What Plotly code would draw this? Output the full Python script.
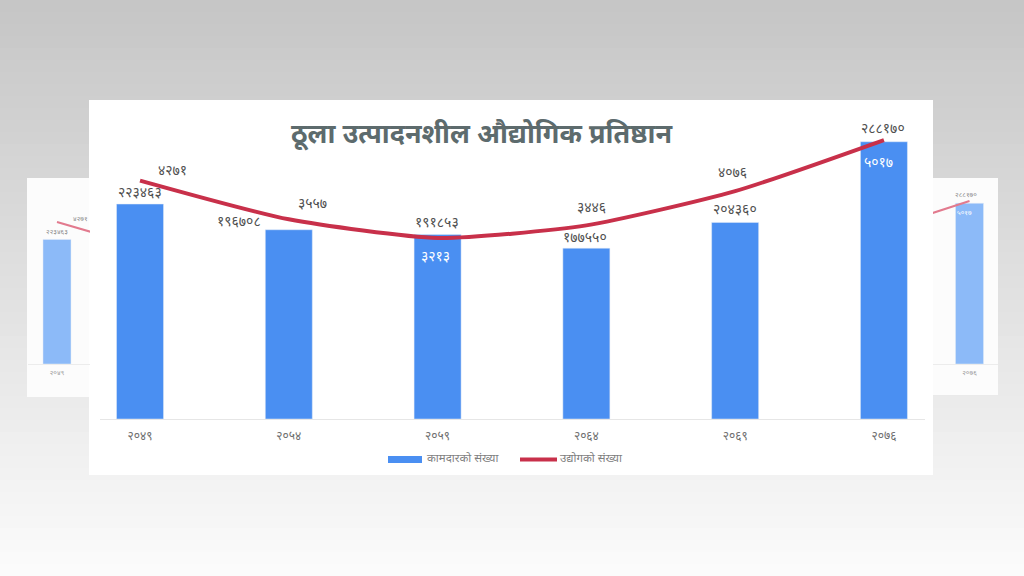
import plotly.graph_objects as go

# ---------------- data ----------------
years = ["२०४९", "२०५४", "२०५९", "२०६४", "२०६९", "२०७६"]
workers = [223463, 196708, 191853, 177550, 204360, 288170]
industries = [4271, 3557, 3213, 3446, 4076, 5017]
title_text = "ठूला उत्पादनशील औद्योगिक प्रतिष्ठान"
bar_name = "कामदारको संख्या"
line_name = "उद्योगको संख्या"

DEV = str.maketrans("0123456789", "०१२३४५६७८९")
def dev(n):
    return str(n).translate(DEV)

W, H = 1024, 576
def px(x):
    return x / W
def py(y):
    return 1 - y / H

FONT = "Noto Sans Devanagari, Lohit Devanagari, FreeSans, Noto Sans, sans-serif"
BAR_C = "#4a8ff2"
LINE_C = "#c8304a"
TXT = "#505050"

fig = go.Figure()

# main chart
fig.add_trace(go.Bar(x=years, y=workers, width=0.316, marker_color=BAR_C,
                     xaxis="x", yaxis="y", showlegend=False, hoverinfo="skip"))
fig.add_trace(go.Scatter(x=years, y=industries, mode="lines",
                         line=dict(color=LINE_C, width=4, shape="spline", smoothing=0.6),
                         xaxis="x", yaxis="y2", showlegend=False, hoverinfo="skip"))
# left faded card
fig.add_trace(go.Bar(x=years, y=workers, width=0.315, marker_color="#8cbaf8",
                     xaxis="x2", yaxis="y3", showlegend=False, hoverinfo="skip"))
fig.add_trace(go.Scatter(x=years, y=industries, mode="lines",
                         line=dict(color="#e27a8e", width=2),
                         xaxis="x2", yaxis="y4", showlegend=False, hoverinfo="skip"))
# right faded card
fig.add_trace(go.Bar(x=years, y=workers, width=0.315, marker_color="#8cbaf8",
                     xaxis="x3", yaxis="y5", showlegend=False, hoverinfo="skip"))
fig.add_trace(go.Scatter(x=years, y=industries, mode="lines",
                         line=dict(color="#e27a8e", width=2),
                         xaxis="x3", yaxis="y6", showlegend=False, hoverinfo="skip"))

shapes = []
# background gradient
top = (0xc6, 0xc6, 0xc6)
bot = (0xfb, 0xfb, 0xfb)
N = 48
for i in range(N):
    t = i / (N - 1)
    c = tuple(int(round(top[k] + (bot[k] - top[k]) * t)) for k in range(3))
    shapes.append(dict(type="rect", xref="paper", yref="paper", x0=0, x1=1,
                       y0=1 - (i + 1) / N, y1=1 - i / N, line_width=0,
                       fillcolor="rgb(%d,%d,%d)" % c, layer="below"))
# side cards
shapes.append(dict(type="rect", xref="paper", yref="paper", x0=px(27), x1=px(92),
                   y0=py(397), y1=py(178), line_width=0, fillcolor="#fcfcfc", layer="below"))
shapes.append(dict(type="rect", xref="paper", yref="paper", x0=px(930), x1=px(998),
                   y0=py(395), y1=py(178), line_width=0, fillcolor="#fcfcfc", layer="below"))
# main card
shapes.append(dict(type="rect", xref="paper", yref="paper", x0=px(89), x1=px(933),
                   y0=py(475), y1=py(100), line_width=0, fillcolor="#ffffff", layer="below"))
# legend marks
shapes.append(dict(type="rect", xref="paper", yref="paper", x0=px(388), x1=px(422),
                   y0=py(463), y1=py(456), line_width=0, fillcolor=BAR_C))
shapes.append(dict(type="line", xref="paper", yref="paper", x0=px(520), x1=px(557),
                   y0=py(459.5), y1=py(459.5), line=dict(color=LINE_C, width=4)))

ann = []
ann.append(dict(text="<b>" + title_text + "</b>", xref="paper", yref="paper",
                x=px(482), y=py(117), showarrow=False,
                font=dict(family=FONT, size=27, color="#5d6b6d")))
ann.append(dict(text=bar_name, xref="paper", yref="paper", x=px(425), y=py(469),
                xanchor="left", showarrow=False, font=dict(family=FONT, size=11.5, color="#7f7f7f")))
ann.append(dict(text=line_name, xref="paper", yref="paper", x=px(558), y=py(469),
                xanchor="left", showarrow=False, font=dict(family=FONT, size=11.5, color="#7f7f7f")))

# bar value label offsets (px)
bar_off = [(0, 11), (-50, 7), (-1, 11), (-1, 10), (0, 12), (-1, 12)]
line_off = [(32, 9), (24, 15), (-2, -19), (5, 17), (-3, 18), (-5, -23)]
line_white = [False, False, True, False, False, True]
for i, yr in enumerate(years):
    ann.append(dict(text=dev(workers[i]), x=yr, y=workers[i], xref="x", yref="y",
                    showarrow=False, xshift=bar_off[i][0], yshift=bar_off[i][1],
                    font=dict(family=FONT, size=14, color=TXT)))
    ann.append(dict(text=dev(industries[i]), x=yr, y=industries[i], xref="x", yref="y2",
                    showarrow=False, xshift=line_off[i][0], yshift=line_off[i][1],
                    font=dict(family=FONT, size=14, color="#ffffff" if line_white[i] else TXT)))

# side-card labels
ann.append(dict(text=dev(workers[0]), x=years[0], y=workers[0], xref="x2", yref="y3",
                showarrow=False, yshift=7, font=dict(family=FONT, size=7, color="#8a8a8a")))
ann.append(dict(text=dev(industries[0]), x=years[0], y=industries[0], xref="x2", yref="y4",
                showarrow=False, xshift=23, yshift=3, font=dict(family=FONT, size=7, color="#8a8a8a")))
ann.append(dict(text=dev(workers[5]), x=years[5], y=workers[5], xref="x3", yref="y5",
                showarrow=False, xshift=-4, yshift=8, font=dict(family=FONT, size=7, color="#8a8a8a")))
ann.append(dict(text=dev(industries[5]), x=years[5], y=industries[5], xref="x3", yref="y6",
                showarrow=False, xshift=-5, yshift=-12, font=dict(family=FONT, size=7, color="#ffffff")))

fig.update_layout(
    width=W, height=H, margin=dict(l=0, r=0, t=0, b=0),
    paper_bgcolor="#ffffff", plot_bgcolor="rgba(0,0,0,0)",
    showlegend=False, shapes=shapes, annotations=ann,
    xaxis=dict(domain=[px(100), px(925)], range=[-0.269, 5.276], anchor="y",
               showgrid=False, zeroline=False, showline=True, linecolor="#e6e6e6",
               ticks="", ticklabelstandoff=6,
               tickfont=dict(family=FONT, size=12, color="#707070"), fixedrange=True),
    yaxis=dict(domain=[py(419), py(135)], range=[0, 295200], anchor="x", visible=False),
    yaxis2=dict(range=[-120, 5110], overlaying="y", anchor="x", visible=False),
    xaxis2=dict(domain=[px(28), px(90)], range=[-0.326, 0.371], anchor="y3",
                showgrid=False, zeroline=False, showline=True, linecolor="#ececec",
                ticks="", ticklabelstandoff=2,
                tickfont=dict(family=FONT, size=7, color="#9a9a9a")),
    yaxis3=dict(domain=[py(364), py(190)], range=[0, 312000], anchor="x2", visible=False),
    yaxis4=dict(range=[370, 5150], overlaying="y3", anchor="x2", visible=False),
    xaxis3=dict(domain=[px(933), px(998)], range=[4.59, 5.32], anchor="y5",
                showgrid=False, zeroline=False, showline=True, linecolor="#ececec",
                ticks="", ticklabelstandoff=2,
                tickfont=dict(family=FONT, size=7, color="#9a9a9a")),
    yaxis5=dict(domain=[py(364), py(190)], range=[0, 312000], anchor="x3", visible=False),
    yaxis6=dict(range=[-293, 5377], overlaying="y5", anchor="x3", visible=False),
)

fig.write_html("out.html", config={"displayModeBar": False})
